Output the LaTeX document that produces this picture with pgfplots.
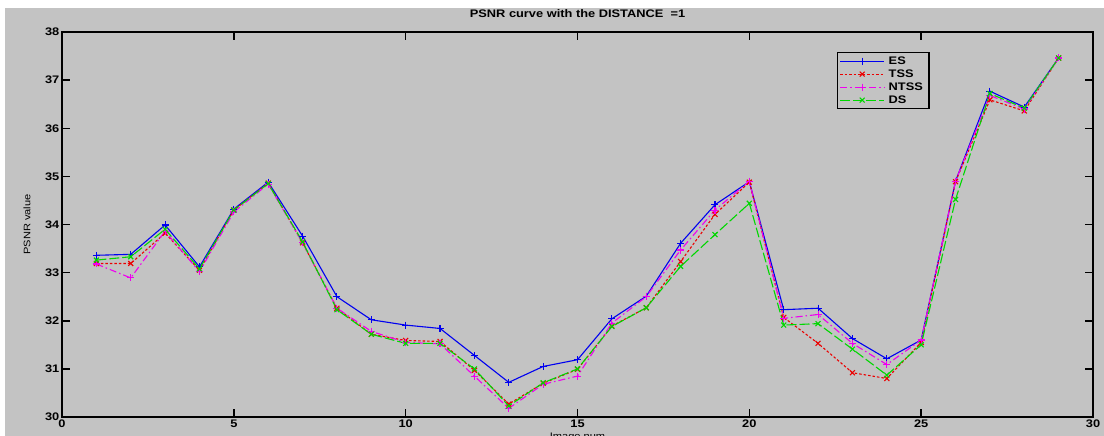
\documentclass[border=0pt]{standalone}
\usepackage{fontspec}
\setmainfont{Liberation Sans}[FakeStretch=1.17]
\usepackage{pgfplots}
\pgfplotsset{compat=1.18}
\usepackage{pgfplotstable}

\definecolor{bg}{RGB}{195,195,195}
\definecolor{esc}{RGB}{0,0,240}
\definecolor{tssc}{RGB}{235,0,0}
\definecolor{ntssc}{RGB}{240,0,240}
\definecolor{dsc}{RGB}{0,215,0}

% image num, ES, TSS, NTSS, DS
\pgfplotstableread{
x   es     tss    ntss   ds
1   33.36  33.19  33.18  33.26
2   33.38  33.19  32.89  33.33
3   33.99  33.82  33.86  33.90
4   33.12  33.05  33.02  33.08
5   34.32  34.30  34.26  34.30
6   34.88  34.86  34.84  34.85
7   33.76  33.62  33.62  33.64
8   32.50  32.26  32.26  32.23
9   32.02  31.72  31.78  31.72
10  31.91  31.59  31.55  31.53
11  31.84  31.57  31.52  31.53
12  31.28  30.97  30.85  31.00
13  30.72  30.27  30.18  30.23
14  31.05  30.70  30.68  30.71
15  31.19  30.99  30.85  31.00
16  32.04  31.89  31.95  31.88
17  32.51  32.27  32.50  32.27
18  33.61  33.23  33.47  33.13
19  34.41  34.21  34.30  33.79
20  34.89  34.88  34.90  34.44
21  32.23  32.07  32.05  31.91
22  32.26  31.53  32.13  31.94
23  31.63  30.92  31.53  31.41
24  31.21  30.80  31.09  30.87
25  31.60  31.55  31.60  31.50
26  34.90  34.89  34.90  34.52
27  36.77  36.59  36.68  36.72
28  36.44  36.36  36.40  36.42
29  37.46  37.46  37.46  37.46
}\psnr

\begin{document}
\begin{tikzpicture}
\useasboundingbox (0,0) rectangle (1104bp,436bp);
\fill[white] (0,0) rectangle (1104bp,436bp);
\fill[bg] (5bp,0) rectangle (1104bp,428bp);
\begin{axis}[
  at={(62bp,19bp)}, anchor=south west,
  scale only axis, width=1031bp, height=385bp,
  xmin=0, xmax=30, ymin=30, ymax=38,
  xtick={0,5,...,30}, ytick={30,31,...,38},
  /pgf/number format/assume math mode=true,
  tick label style={font=\bfseries\fontsize{11}{13}\selectfont},
  xticklabel style={inner sep=2.5bp},
  yticklabel style={inner sep=2.5bp},
  major tick length=8bp,
  every tick/.style={black,line width=1.5bp},
  axis line style={black,line width=1.2bp},
  title={PSNR curve with the DISTANCE\ \ =1},
  title style={font=\bfseries\fontsize{11}{13}\selectfont,at={(axis description cs:0.5,1)},anchor=south,yshift=5bp},
  xlabel={Image num},
  ylabel={PSNR value},
  every axis x label/.style={at={(axis description cs:0.5,0)},anchor=north,yshift=-12bp,font=\fontsize{9.5}{11}\selectfont},
  every axis y label/.style={at={(axis description cs:-0.034,0.5)},anchor=center,rotate=90,font=\fontsize{9.5}{11}\selectfont},
  legend cell align=left,
  legend style={at={(0.7517,0.948)},anchor=north west,fill=bg,draw=black,line width=1.2bp,
    row sep=0pt,inner sep=2bp,
    font=\bfseries\fontsize{11}{13}\selectfont,
    nodes={inner ysep=1.5bp,inner xsep=4bp,text height=8bp,text depth=2bp}},
  legend image code/.code={\draw[mark repeat=2,mark phase=2,line width=1.1bp,#1] plot coordinates {(0bp,0bp) (22bp,0bp) (44bp,0bp)};},
  every axis plot/.append style={line width=1.1bp,mark size=3.5bp},
]
\addplot[draw=esc,mark=+,mark options={solid,draw=esc}] table[x=x,y=es] {\psnr};
\addlegendentry{ES}
\addplot[draw=tssc,dash pattern=on 2.5bp off 2bp,mark=x,mark options={solid,draw=tssc}] table[x=x,y=tss] {\psnr};
\addlegendentry{TSS}
\addplot[draw=ntssc,dash pattern=on 7bp off 3bp on 1.5bp off 3bp,mark=+,mark options={solid,draw=ntssc}] table[x=x,y=ntss] {\psnr};
\addlegendentry{NTSS}
\addplot[draw=dsc,dash pattern=on 10bp off 3bp,mark=x,mark options={solid,draw=dsc}] table[x=x,y=ds] {\psnr};
\addlegendentry{DS}
\draw[black,line width=2bp] (rel axis cs:0,1) -- (rel axis cs:0,0) -- (rel axis cs:1,0);
\end{axis}
\end{tikzpicture}
\end{document}
